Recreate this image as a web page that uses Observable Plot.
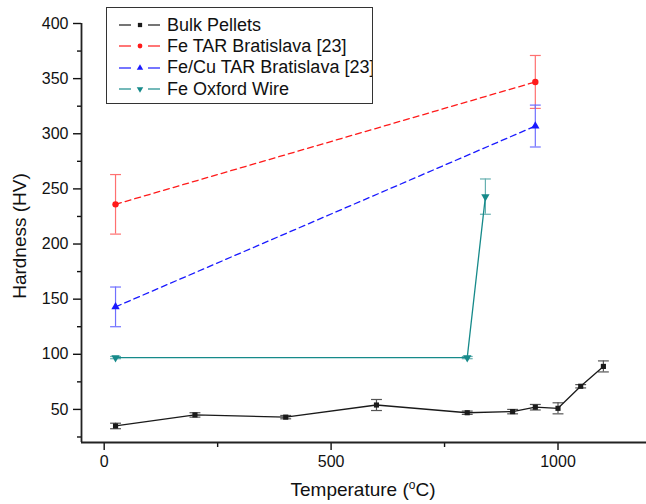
<!DOCTYPE html>
<html>
<head>
<meta charset="utf-8">
<script src="https://cdn.jsdelivr.net/npm/d3@7"></script>
<script src="https://cdn.jsdelivr.net/npm/@observablehq/plot@0.6"></script>
<style>
  body { margin: 0; background: white; font-family: "Liberation Sans", Arial, sans-serif; }
  #wrap { position: relative; width: 646px; height: 504px; }
  .ttl { position: absolute; white-space: nowrap; color: #111; font-size: 19px; }
  #legend { position: absolute; left: 106px; top: 7px; width: 267px; height: 97px; border: 1px solid #333; background: white; box-sizing: border-box; overflow: hidden; }
  .lrow { position: absolute; left: 0; height: 20px; display: flex; align-items: center; font-size: 18px; color: #111; white-space: nowrap; }
  .lrow svg { margin-left: 12px; margin-right: 6px; }
</style>
</head>
<body>
<div id="wrap"></div>
<script>
// ---- data ----
const seriesNames = ["Bulk Pellets", "Fe TAR Bratislava [23]", "Fe/Cu TAR Bratislava [23]", "Fe Oxford Wire"];

const tempBulk = [25, 200, 400, 600, 800, 900, 950, 1000, 1050, 1100];
const hvBulk   = [35, 45, 43, 54, 47, 48, 52, 51, 71, 89];
const errBulk  = [2.5, 2, 1.5, 5, 1.5, 2, 2.5, 5, 1.5, 5];

const tempFeTAR = [25, 950];
const hvFeTAR   = [236, 347];
const errFeTAR  = [27, 24];

const tempFeCuTAR = [25, 950];
const hvFeCuTAR   = [143, 307];
const errFeCuTAR  = [18, 19];

const tempOxford = [25, 800, 840];
const hvOxford   = [97, 97, 243];
const errOxford  = [1, 1, 16];

const xTicks = [0, 500, 1000];
const xMinor = [250, 750];
const yTicks = [50, 100, 150, 200, 250, 300, 350, 400];
const yMinor = [25, 75, 125, 175, 225, 275, 325, 375];

// ---- styling ----
const styles = [
  {color: "#1a1a1a", err: "#555", dash: null, symbol: "square", r: 2.9, rotate: 0},
  {color: "#ff1a1a", err: "#ff7070", dash: "6,4", symbol: "circle", r: 3.2, rotate: 0},
  {color: "#1a1aff", err: "#7070ff", dash: "6,4", symbol: "triangle", r: 3.1, rotate: 0},
  {color: "#168a8a", err: "#66b0b0", dash: null, symbol: "triangle", r: 3.1, rotate: 180}
];

const raw = [
  [tempBulk, hvBulk, errBulk],
  [tempFeTAR, hvFeTAR, errFeTAR],
  [tempFeCuTAR, hvFeCuTAR, errFeCuTAR],
  [tempOxford, hvOxford, errOxford]
];
const series = raw.map(([t, h, e], i) => ({
  name: seriesNames[i],
  style: styles[i],
  rows: t.map((tt, j) => ({t: tt, hv: h[j], err: e[j]}))
}));

const capHalf = 12; // cap half-width in data units
const marks = [];
for (const s of series) {
  const st = s.style;
  marks.push(Plot.ruleX(s.rows, {x: "t", y1: d => d.hv - d.err, y2: d => d.hv + d.err, stroke: st.err, strokeWidth: 1.2}));
  marks.push(Plot.link(s.rows, {x1: d => d.t - capHalf, x2: d => d.t + capHalf, y1: d => d.hv + d.err, y2: d => d.hv + d.err, stroke: st.err, strokeWidth: 1.2}));
  marks.push(Plot.link(s.rows, {x1: d => d.t - capHalf, x2: d => d.t + capHalf, y1: d => d.hv - d.err, y2: d => d.hv - d.err, stroke: st.err, strokeWidth: 1.2}));
}
for (const s of series) {
  const st = s.style;
  marks.push(Plot.line(s.rows, {x: "t", y: "hv", stroke: st.color, strokeWidth: 1.3, strokeDasharray: st.dash}));
  marks.push(Plot.dot(s.rows, {x: "t", y: "hv", symbol: st.symbol, r: st.r, fill: st.color, stroke: "none", rotate: st.rotate}));
}

const chart = Plot.plot({
  width: 646,
  height: 504,
  marginLeft: 81,
  marginRight: 0,
  marginTop: 23,
  marginBottom: 62,
  x: {domain: [-50, 1195]},
  y: {domain: [20, 400]},
  style: {fontFamily: "'Liberation Sans', Arial, sans-serif", fontSize: "16px", color: "#111", background: "white", overflow: "visible"},
  marks: [
    Plot.axisX({ticks: xTicks, tickSize: 8, tickPadding: 5, tickFormat: d => String(d), label: null, fontSize: 16, strokeWidth: 1.4}),
    Plot.axisX({ticks: xMinor, tickSize: 5, tickFormat: () => "", label: null, strokeWidth: 1.4}),
    Plot.axisY({ticks: yTicks, tickSize: 8, tickPadding: 5, label: null, fontSize: 16, strokeWidth: 1.4}),
    Plot.axisY({ticks: yMinor, tickSize: 4, tickFormat: () => "", label: null, strokeWidth: 1.4}),
    Plot.ruleY([20], {stroke: "#222", strokeWidth: 1.8}),
    Plot.ruleX([-50], {y1: 20, y2: 400, stroke: "#222", strokeWidth: 1.8}),
    ...marks
  ]
});

const wrap = document.getElementById("wrap");
wrap.appendChild(chart);

// axis titles
const yt = document.createElement("div");
yt.className = "ttl";
yt.textContent = "Hardness (HV)";
yt.style.left = "20px"; yt.style.top = "236px";
yt.style.transform = "translate(-50%,-50%) rotate(-90deg)";
wrap.appendChild(yt);

const xt = document.createElement("div");
xt.className = "ttl";
xt.innerHTML = "Temperature (<sup style='font-size:12px;vertical-align:7px'>o</sup>C)";
xt.style.left = "363px"; xt.style.top = "489px";
xt.style.transform = "translate(-50%,-50%)";
wrap.appendChild(xt);

// legend
const legend = document.createElement("div");
legend.id = "legend";
series.forEach((s, i) => {
  const st = s.style;
  const row = document.createElement("div");
  row.className = "lrow";
  row.style.top = (7 + i * 21.4) + "px";
  const svg = d3.create("svg").attr("width", 42).attr("height", 14);
  svg.append("line").attr("x1", 0).attr("x2", 12).attr("y1", 7).attr("y2", 7).attr("stroke", st.color).attr("stroke-width", 1.2);
  svg.append("line").attr("x1", 29).attr("x2", 41).attr("y1", 7).attr("y2", 7).attr("stroke", st.color).attr("stroke-width", 1.2);
  const symMap = {square: d3.symbolSquare, circle: d3.symbolCircle, triangle: d3.symbolTriangle};
  svg.append("path")
    .attr("d", d3.symbol(symMap[st.symbol], Math.PI * 2.4 * 2.4)())
    .attr("transform", `translate(21,7) rotate(${st.rotate})`)
    .attr("fill", st.color);
  row.appendChild(svg.node());
  const span = document.createElement("span");
  span.textContent = s.name;
  row.appendChild(span);
  legend.appendChild(row);
});
wrap.appendChild(legend);
</script>
</body>
</html>
